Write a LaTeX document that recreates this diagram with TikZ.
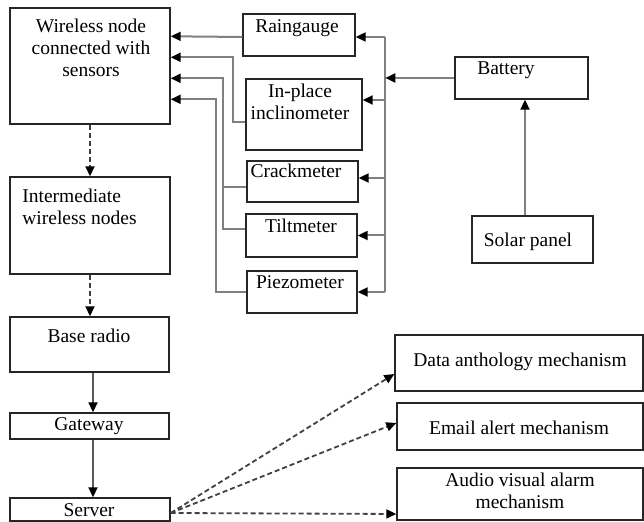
\documentclass[tikz,border=0pt]{standalone}
\usepackage{fontspec}
\setmainfont{Liberation Serif}
\usetikzlibrary{arrows.meta,fit,calc}
\begin{document}
\begin{tikzpicture}[x=0.5pt,y=-0.5pt,
 box/.style={draw=black!85, line width=0.7pt, inner sep=0pt, rectangle},
 txt/.style={inner sep=0pt, font=\fontsize{9.75}{11}\selectfont},
 conn/.style={draw=black!50, line width=1pt},
 conn2/.style={draw=black!65, line width=1pt},
 arr/.style={-{Triangle[length=5pt,width=4.5pt,color=black]}},
 dsh/.style={draw=black!75, line width=0.9pt, dash pattern=on 2.5pt off 1.5pt}]
\useasboundingbox (0,0) rectangle (644,522);

% boxes
\node[box, fit={(10,8)(170,124)}] (wn) {};
\node[box, fit={(243,14)(355,56)}] (rain) {};
\node[box, fit={(246,79)(362,150)}] (incl) {};
\node[box, fit={(247,161)(358,202)}] (crack) {};
\node[box, fit={(246,214)(357,257)}] (tilt) {};
\node[box, fit={(247,271)(357,313)}] (piezo) {};
\node[box, fit={(455,57)(588,99)}] (batt) {};
\node[box, fit={(472,216)(593,263)}] (solar) {};
\node[box, fit={(10,177)(170,274)}] (inter) {};
\node[box, fit={(10,317)(169,372)}] (base) {};
\node[box, fit={(10,413)(169,439)}] (gate) {};
\node[box, fit={(10,498)(170,521)}] (server) {};
\node[box, fit={(395,335)(643,391)}] (data) {};
\node[box, fit={(397,403)(643,450)}] (email) {};
\node[box, fit={(397,468)(643,520)}] (audio) {};

% texts
\node[txt, align=center] (wnT) at (91,48.3) {Wireless node\\connected with\\sensors};
\node[txt, anchor=base] (rainT) at (297,33) {Raingauge};
\node[txt, align=center] (inclT) at (300,101.4) {In-place\\inclinometer};
\node[txt, anchor=base] (crackT) at (296,178) {Crackmeter};
\node[txt, anchor=base] (tiltT) at (301,233) {Tiltmeter};
\node[txt, anchor=base] (piezoT) at (300,289) {Piezometer};
\node[txt, anchor=base] (battT) at (506,75) {Battery};
\node[txt, anchor=base] (solarT) at (528,247) {Solar panel};
\node[txt, align=left, anchor=west] (interT) at (22,206.9) {Intermediate\\wireless nodes};
\node[txt, anchor=base] (baseT) at (89,343) {Base radio};
\node[txt, anchor=base] (gateT) at (89,431) {Gateway};
\node[txt, anchor=base] (serverT) at (89,517) {Server};
\node[txt, anchor=base] (dataT) at (520,367) {Data anthology mechanism};
\node[txt, anchor=base] (emailT) at (519,435) {Email alert mechanism};
\node[txt, align=center] (audioT) at (520,490.4) {Audio visual alarm\\mechanism};

% sensors to wireless node
\draw[conn,arr] ([yshift=-1pt]rain.west) -- ([yshift=-14.5pt]wn.north east);
\draw[conn,arr] ([yshift=-3.75pt]incl.west) -- ++(-6pt,0) |- ([yshift=-25pt]wn.north east);
\draw[conn] ([yshift=-2.75pt]crack.west) -- ++(-11.5pt,0);
\draw[conn,arr] ([yshift=3.25pt]tilt.west) -- ++(-11pt,0) |- ([yshift=-35.5pt]wn.north east);
\draw[conn,arr] (piezo.west) -- ++(-15pt,0) |- ([yshift=-46pt]wn.north east);

% power bus
\coordinate (bus) at ([xshift=-34.5pt]batt.west);
\coordinate (rE) at ([yshift=-1pt]rain.east);
\coordinate (iE) at ([yshift=7.25pt]incl.east);
\coordinate (cE) at ([yshift=1.75pt]crack.east);
\draw[conn] (bus |- rE) -- (bus |- piezo.east);
\draw[conn,arr] (bus |- rE) -- (rE);
\draw[conn,arr] (bus |- iE) -- (iE);
\draw[conn,arr] (bus |- cE) -- (cE);
\draw[conn,arr] (bus |- tilt.east) -- (tilt.east);
\draw[conn,arr] (bus |- piezo.east) -- (piezo.east);
\draw[conn,arr] (batt.west) -- (bus);
\coordinate (sp) at ([xshift=-3.75pt]solar.north);
\draw[conn,arr] (sp) -- (sp |- batt.south);

% chain
\draw[dsh,arr] (wn.south) -- (inter.north);
\draw[dsh,arr] (inter.south) -- (inter.south |- base.north);
\coordinate (bS) at ([xshift=1.75pt]base.south);
\draw[conn2,arr] (bS) -- (bS |- gate.north);
\coordinate (gS) at ([xshift=1.75pt]gate.south);
\draw[conn2,arr] (gS) -- (gS |- server.north);

% outputs
\coordinate (sE) at ([yshift=-1.75pt]server.east);
\draw[dsh,arr] (sE) -- ([yshift=-5.5pt]data.west);
\draw[dsh,arr] (sE) -- ([yshift=1.75pt]email.west);
\draw[dsh,arr] (sE) -- ([yshift=-10pt]audio.west);
\end{tikzpicture}
\end{document}
